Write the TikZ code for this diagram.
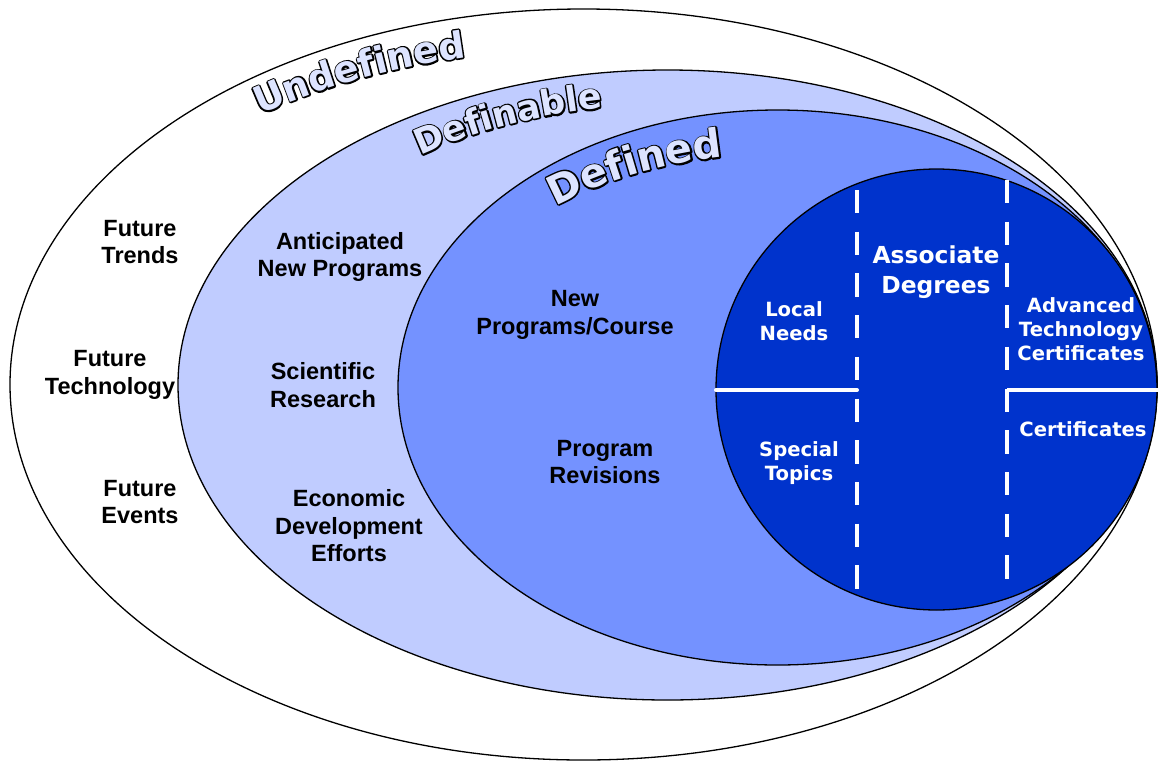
\documentclass[tikz,border=0pt]{standalone}
\usepackage{fontspec}
\setmainfont{Liberation Sans}
\newfontfamily\circfont{DejaVu Sans}
\usetikzlibrary{decorations.text}

\definecolor{definable}{RGB}{192,204,255}
\definecolor{defined}{RGB}{116,146,255}
\definecolor{assoc}{RGB}{0,51,204}
\definecolor{titlefill}{RGB}{221,228,255}

% fattened black glyphs (text render mode 2), laid under the fill
\newcommand{\fattened}{\special{pdf:literal direct 0 0 0 RG 3 w 1 j 2 Tr}}

% outlined word bent along an elliptic arc:
% centre, x radius, y radius, start angle, size, word
\newcommand{\arctitle}[6]{%
  \path[decorate, decoration={text along path,
      text={|\circfont\bfseries\fontsize{#5}{#5}\selectfont\color{black}\fattened|#6}}]
    ([shift={(#4:#2 and #3)}]#1)
    arc[start angle=#4, delta angle=-50, x radius=#2, y radius=#3];
  \path[decorate, decoration={text along path,
      text={|\circfont\bfseries\fontsize{#5}{#5}\selectfont\color{titlefill}|#6}}]
    ([shift={(#4:#2 and #3)}]#1)
    arc[start angle=#4, delta angle=-50, x radius=#2, y radius=#3];
}

\tikzset{
  zone/.style={draw=black, line width=1.3pt},
  outerlbl/.style={font=\bfseries\fontsize{23.5}{27.5}\selectfont, align=center},
  innerlbl/.style={font=\circfont\bfseries\fontsize{19.6}{24}\selectfont,
    text=white, align=center},
  divider/.style={draw=white, line width=4pt},
  gap/.style={dash pattern=on 23.3pt off 18.4pt},
}

\begin{document}
\begin{tikzpicture}[x=1pt, y=1pt]
\useasboundingbox (0,0) rectangle (1159,-761);

% nested zones
\fill[white] (0,0) rectangle (1159,-761);
\path[zone, fill=white] (583.5,-384.5) ellipse [x radius=573.5pt, y radius=375.5pt];
\path[zone, fill=definable] (667.5,-385) ellipse [x radius=489.5pt, y radius=315pt];
\path[zone, fill=defined] (777.5,-387.5) ellipse [x radius=379.5pt, y radius=277.5pt];
\path[zone, fill=assoc] (936.5,-389.5) circle [radius=220.5pt];

% zone titles
\arctitle{583.5,-384.5}{545pt}{335pt}{126.4}{37}{Undefined}
\arctitle{667.5,-385}{430pt}{280pt}{125.1}{35}{Definable}
\arctitle{777.5,-387.5}{352.8pt}{233.1pt}{129}{40}{Defined}

% dividers in the degree circle
\coordinate (cl) at (716,-390);
\coordinate (cm) at (857,-390);
\coordinate (cr) at (1007,-390);
\coordinate (ce) at (1158,-390);
\coordinate (lt) at (857,-190);
\coordinate (lb) at (857,-590);
\coordinate (rt) at (1007,-180);
\coordinate (rb) at (1007,-582);
\draw[divider, gap] (lt) -- (lb);
\draw[divider, gap] (rt) -- (rb);
\draw[divider, line cap=round] (cl) -- (cm);
\draw[divider] (cr) -- (ce);

% undefined
\node[outerlbl] (trends) at (140,-242) {Future\\Trends};
\node[outerlbl] (tech) at (110,-375) {Future\\Technology};
\node[outerlbl] (events) at (140,-502) {Future\\Events};
% definable
\node[outerlbl] (anticip) at (340,-257) {Anticipated\\New Programs};
\node[outerlbl] (research) at (323,-385) {Scientific\\Research};
\node[outerlbl] (econ) at (349,-526) {Economic\\Development\\Efforts};
% defined
\node[outerlbl] (newprog) at (575,-315) {New\\Programs/Course};
\node[outerlbl] (revis) at (605,-462) {Program\\Revisions};
% degree circle
\node[innerlbl] (local) at (794,-321) {Local\\Needs};
\node[innerlbl] (special) at (799,-463) {Special\\Topics};
\node[innerlbl, font=\circfont\bfseries\fontsize{23.4}{30}\selectfont] (degrees) at (936,-272) {Associate\\Degrees};
\node[innerlbl] (advtech) at (1081,-329) {Advanced\\Technology\\Certificates};
\node[innerlbl] (cert) at (1083,-429) {Certificates};
\end{tikzpicture}
\end{document}
